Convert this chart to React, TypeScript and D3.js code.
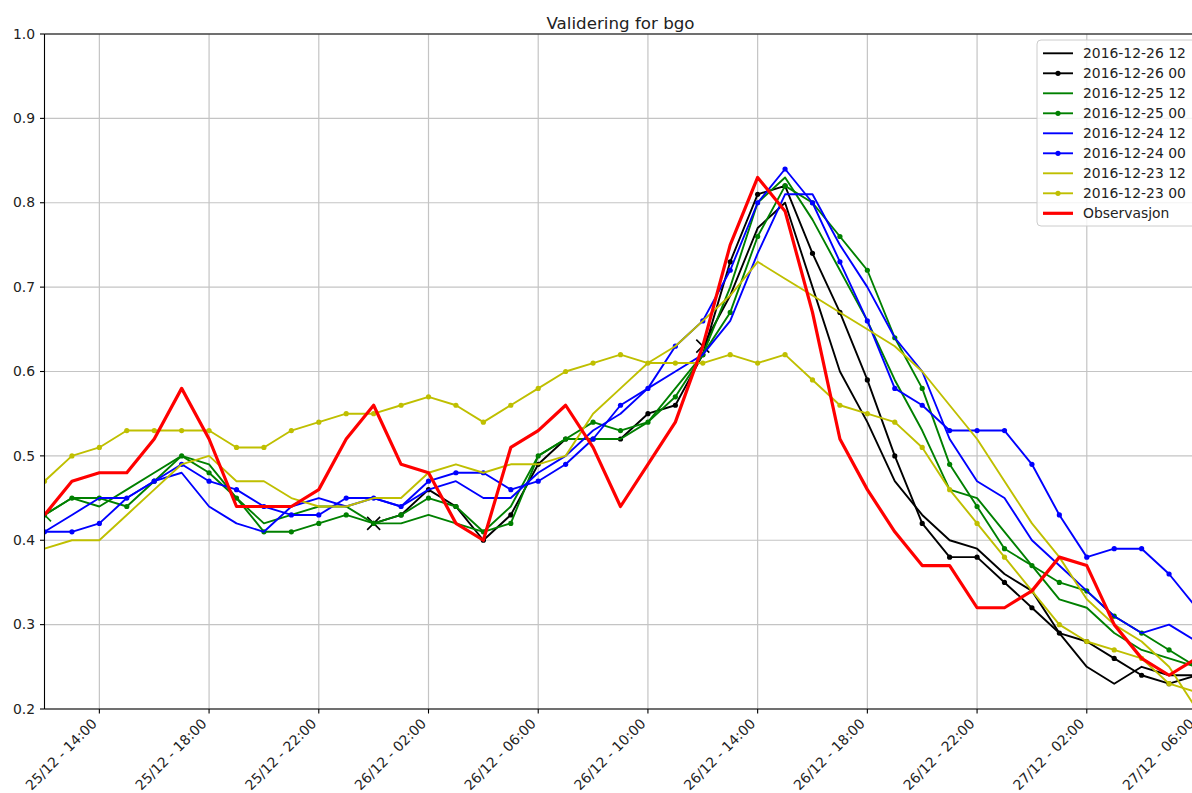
import React, { useEffect, useRef } from 'react';
import * as d3 from 'd3';

// forecast runs, hourly values from 25/12 12:00 (offset = first hour index)
const obs = [0.43, 0.47, 0.48, 0.48, 0.52, 0.58, 0.52, 0.44, 0.44, 0.44, 0.46, 0.52, 0.56, 0.49, 0.48, 0.42, 0.40, 0.51, 0.53, 0.56, 0.51, 0.44, 0.49, 0.54, 0.63, 0.75, 0.83, 0.79, 0.67, 0.52, 0.46, 0.41, 0.37, 0.37, 0.32, 0.32, 0.34, 0.38, 0.37, 0.30, 0.26, 0.24, 0.26];
const fc2300 = [0.47, 0.50, 0.51, 0.53, 0.53, 0.53, 0.53, 0.51, 0.51, 0.53, 0.54, 0.55, 0.55, 0.56, 0.57, 0.56, 0.54, 0.56, 0.58, 0.60, 0.61, 0.62, 0.61, 0.61, 0.61, 0.62, 0.61, 0.62, 0.59, 0.56, 0.55, 0.54, 0.51, 0.46, 0.42, 0.38, 0.34, 0.30, 0.28, 0.27, 0.26, 0.23, 0.22];
const fc2312 = [0.39, 0.40, 0.40, 0.43, 0.46, 0.49, 0.50, 0.47, 0.47, 0.45, 0.44, 0.44, 0.45, 0.45, 0.48, 0.49, 0.48, 0.49, 0.49, 0.50, 0.55, 0.58, 0.61, 0.63, 0.66, 0.69, 0.73, 0.71, 0.69, 0.67, 0.65, 0.63, 0.60, 0.56, 0.52, 0.47, 0.42, 0.38, 0.33, 0.30, 0.28, 0.25, 0.20];
const fc2400 = [0.41, 0.41, 0.42, 0.45, 0.47, 0.49, 0.47, 0.46, 0.44, 0.43, 0.43, 0.45, 0.45, 0.44, 0.47, 0.48, 0.48, 0.46, 0.47, 0.49, 0.52, 0.56, 0.58, 0.63, 0.66, 0.72, 0.80, 0.84, 0.80, 0.73, 0.66, 0.58, 0.56, 0.53, 0.53, 0.53, 0.49, 0.43, 0.38, 0.39, 0.39, 0.36, 0.32];
const fc2412 = [0.41, 0.43, 0.45, 0.45, 0.47, 0.48, 0.44, 0.42, 0.41, 0.44, 0.45, 0.44, 0.45, 0.44, 0.46, 0.47, 0.45, 0.45, 0.48, 0.50, 0.53, 0.55, 0.58, 0.60, 0.62, 0.66, 0.74, 0.81, 0.81, 0.75, 0.70, 0.64, 0.60, 0.52, 0.47, 0.45, 0.40, 0.37, 0.34, 0.31, 0.29, 0.30, 0.28];
const fc2500 = [0.43, 0.45, 0.45, 0.44, 0.47, 0.50, 0.48, 0.45, 0.41, 0.41, 0.42, 0.43, 0.42, 0.43, 0.45, 0.44, 0.41, 0.42, 0.50, 0.52, 0.54, 0.53, 0.54, 0.57, 0.62, 0.67, 0.76, 0.82, 0.80, 0.76, 0.72, 0.64, 0.58, 0.49, 0.44, 0.39, 0.37, 0.35, 0.34, 0.31, 0.29, 0.27, 0.25];
const fc2512 = [0.43, 0.45, 0.44, 0.46, 0.48, 0.50, 0.49, 0.45, 0.42, 0.43, 0.44, 0.44, 0.42, 0.42, 0.43, 0.42, 0.41, 0.44, 0.50, 0.52, 0.52, 0.52, 0.54, 0.58, 0.62, 0.70, 0.80, 0.83, 0.78, 0.72, 0.66, 0.59, 0.53, 0.46, 0.45, 0.41, 0.37, 0.33, 0.32, 0.29, 0.27, 0.26, 0.25];
const fc2600 = [0.42, 0.43, 0.46, 0.44, 0.40, 0.43, 0.49, 0.52, 0.52, 0.52, 0.55, 0.56, 0.62, 0.73, 0.81, 0.82, 0.74, 0.67, 0.59, 0.50, 0.42, 0.38, 0.38, 0.35, 0.32, 0.29, 0.28, 0.26, 0.24, 0.23, 0.24];
const fc2612 = [0.63, 0.69, 0.77, 0.80, 0.70, 0.60, 0.54, 0.47, 0.43, 0.40, 0.39, 0.36, 0.34, 0.29, 0.25, 0.23, 0.25, 0.24, 0.24];

const series = [
  { label: '2016-12-26 12', color: '#000000', dots: false, offset: 24, start: true, values: fc2612 },
  { label: '2016-12-26 00', color: '#000000', dots: true, offset: 12, start: true, values: fc2600 },
  { label: '2016-12-25 12', color: '#008000', dots: false, offset: 0, start: true, values: fc2512 },
  { label: '2016-12-25 00', color: '#008000', dots: true, offset: 0, start: false, values: fc2500 },
  { label: '2016-12-24 12', color: '#0000ff', dots: false, offset: 0, start: false, values: fc2412 },
  { label: '2016-12-24 00', color: '#0000ff', dots: true, offset: 0, start: false, values: fc2400 },
  { label: '2016-12-23 12', color: '#bfbf00', dots: false, offset: 0, start: false, values: fc2312 },
  { label: '2016-12-23 00', color: '#bfbf00', dots: true, offset: 0, start: false, values: fc2300 },
  { label: 'Observasjon', color: '#ff0000', dots: false, offset: 0, start: false, values: obs, thick: true },
];

const startTime = new Date(2016, 11, 25, 12);
const endTime = new Date(2016, 11, 27, 6);
const tickTimes = d3.timeHour.range(new Date(2016, 11, 25, 14), new Date(2016, 11, 27, 7), 4);
const yTicks = [0.2, 0.3, 0.4, 0.5, 0.6, 0.7, 0.8, 0.9, 1.0];

const FONT = '"DejaVu Sans", sans-serif';

const App = () => {
  const svgRef = useRef<SVGSVGElement>(null);

  useEffect(() => {
    const W = 1192, H = 793;
    const left = 44.5, right = 1196.5, top = 34, bottom = 709;

    const svg = d3.select(svgRef.current);
    svg.selectAll('*').remove();
    svg.attr('width', W).attr('height', H);

    svg.append('rect').attr('width', W).attr('height', H).attr('fill', '#fff');

    const x = d3.scaleTime().domain([startTime, endTime]).range([left, right]);
    const y = d3.scaleLinear().domain([0.2, 1.0]).range([bottom, top]);

    svg.append('defs').append('clipPath').attr('id', 'plot-clip')
      .append('rect')
      .attr('x', left).attr('y', top)
      .attr('width', right - left).attr('height', bottom - top);

    // grid
    const grid = svg.append('g');
    grid.selectAll('.vg').data(tickTimes).enter().append('line')
      .attr('x1', d => x(d)).attr('x2', d => x(d))
      .attr('y1', top).attr('y2', bottom)
      .attr('stroke', '#c4c4c4').attr('stroke-width', 1.2);
    grid.selectAll('.hg').data(yTicks).enter().append('line')
      .attr('x1', left).attr('x2', right)
      .attr('y1', d => y(d)).attr('y2', d => y(d))
      .attr('stroke', '#c4c4c4').attr('stroke-width', 1.2);

    // series
    const plot = svg.append('g').attr('clip-path', 'url(#plot-clip)');
    const line = d3.line<[Date, number]>().x(d => x(d[0])).y(d => y(d[1]));

    series.forEach(s => {
      const pts: [Date, number][] = s.values.map((v, i) => [d3.timeHour.offset(startTime, s.offset + i), v]);
      plot.append('path')
        .datum(pts)
        .attr('fill', 'none')
        .attr('stroke', s.color)
        .attr('stroke-width', s.thick ? 3.2 : 1.9)
        .attr('stroke-linejoin', 'round')
        .attr('d', line);
      if (s.dots) {
        plot.selectAll(null).data(pts).enter().append('circle')
          .attr('cx', d => x(d[0])).attr('cy', d => y(d[1]))
          .attr('r', 2.6).attr('fill', s.color);
      }
      if (s.start) {
        const p = pts[0];
        plot.append('path')
          .attr('transform', `translate(${x(p[0])},${y(p[1])})`)
          .attr('d', 'M-6.5,-6.5L6.5,6.5M-6.5,6.5L6.5,-6.5')
          .attr('stroke', s.color).attr('stroke-width', 1.6).attr('fill', 'none');
      }
    });

    // axes frame
    const frame = svg.append('g').attr('stroke', '#000').attr('stroke-width', 1.1);
    frame.append('line').attr('x1', left).attr('x2', left).attr('y1', top).attr('y2', bottom);
    frame.append('line').attr('x1', left).attr('x2', right).attr('y1', top).attr('y2', top);
    frame.append('line').attr('x1', left).attr('x2', right).attr('y1', bottom).attr('y2', bottom);
    frame.append('line').attr('x1', right).attr('x2', right).attr('y1', top).attr('y2', bottom);

    // y ticks
    const yAxis = svg.append('g');
    yTicks.forEach(t => {
      yAxis.append('line')
        .attr('x1', left - 4.5).attr('x2', left)
        .attr('y1', y(t)).attr('y2', y(t))
        .attr('stroke', '#000').attr('stroke-width', 1.1);
      yAxis.append('text')
        .attr('x', 35).attr('y', y(t)).attr('dy', '0.34em')
        .attr('text-anchor', 'end')
        .attr('font-family', FONT).attr('font-size', 13.9).attr('fill', '#222')
        .text(d3.format('.1f')(t));
    });

    // x ticks
    const fmt = d3.timeFormat('%d/%m - %H:%M');
    const xAxis = svg.append('g');
    tickTimes.forEach(t => {
      const tx = x(t);
      xAxis.append('line')
        .attr('x1', tx).attr('x2', tx)
        .attr('y1', bottom).attr('y2', bottom + 4.5)
        .attr('stroke', '#000').attr('stroke-width', 1.1);
      xAxis.append('text')
        .attr('transform', `translate(${tx - 1.5},${bottom + 15.5}) rotate(-45)`)
        .attr('text-anchor', 'end')
        .attr('font-family', FONT).attr('font-size', 13.9).attr('fill', '#222')
        .text(fmt(t));
    });

    // title
    svg.append('text')
      .attr('x', (left + right) / 2).attr('y', 29)
      .attr('text-anchor', 'middle')
      .attr('font-family', FONT).attr('font-size', 16.7).attr('fill', '#222')
      .text('Validering for bgo');

    // legend
    const lg = svg.append('g');
    lg.append('rect')
      .attr('x', 1037).attr('y', 40).attr('width', 170).attr('height', 186)
      .attr('rx', 4)
      .attr('fill', '#fff').attr('fill-opacity', 0.8)
      .attr('stroke', '#cccccc').attr('stroke-width', 1);
    series.forEach((s, i) => {
      const ly = 53.3 + i * 20;
      lg.append('line')
        .attr('x1', 1043).attr('x2', 1073).attr('y1', ly).attr('y2', ly)
        .attr('stroke', s.color).attr('stroke-width', s.thick ? 3.2 : 1.9);
      if (s.dots) {
        lg.append('circle').attr('cx', 1058).attr('cy', ly).attr('r', 2.6).attr('fill', s.color);
      }
      lg.append('text')
        .attr('x', 1083).attr('y', ly).attr('dy', '0.36em')
        .attr('font-family', FONT).attr('font-size', 13.9).attr('fill', '#222')
        .text(s.label);
    });
  }, []);

  return (
    <div style={{ position: 'absolute', left: 0, top: 0 }}>
      <svg ref={svgRef} style={{ display: 'block' }}></svg>
    </div>
  );
};

export default App;
